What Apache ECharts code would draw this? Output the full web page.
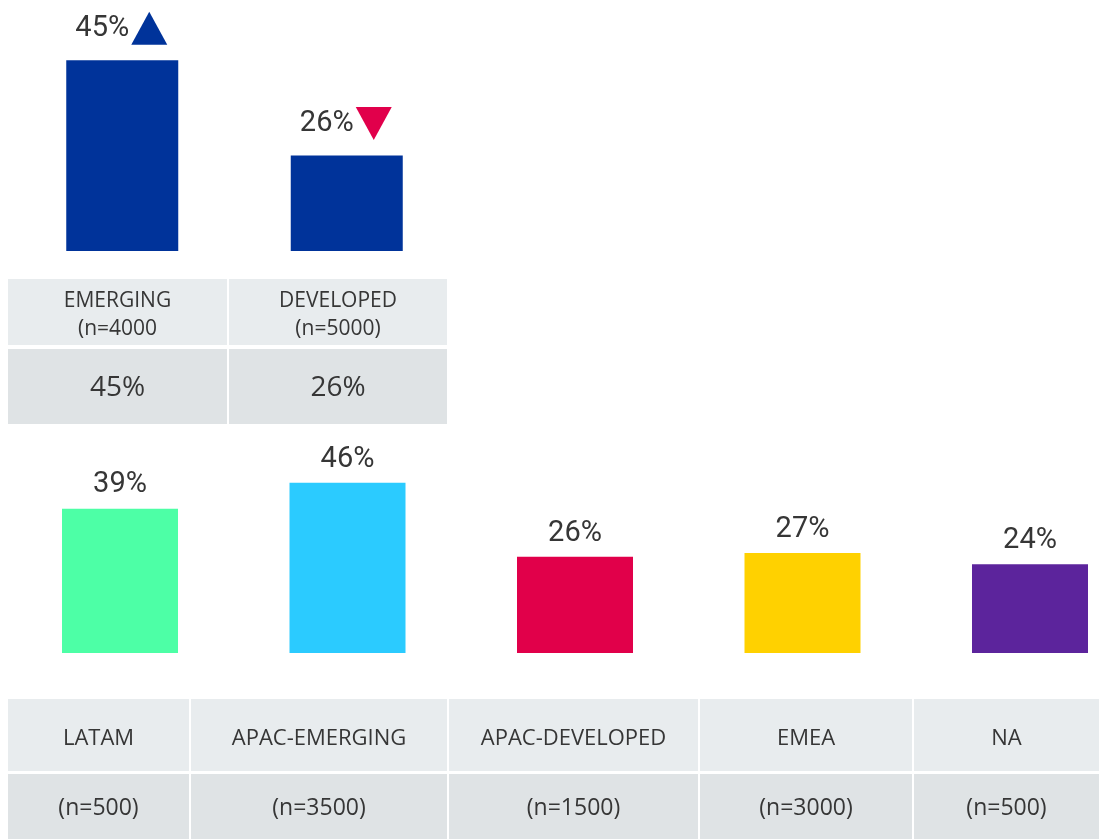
<!DOCTYPE html>
<html>
<head>
<meta charset="utf-8">
<title>Emerging vs developed, by region</title>
<script src="https://cdn.jsdelivr.net/npm/echarts@6/dist/echarts.min.js"></script>
<style>
  html, body { margin: 0; padding: 0; background: #ffffff; }
  #chart { width: 1099px; height: 839px; }
</style>
</head>
<body>
<div id="chart"></div>
<script>
// --- data: top panel (market type) ---
const marketCats = ['EMERGING', 'DEVELOPED'];
const marketSizes = ['(n=4000', '(n=5000)'];
const marketValues = [45, 26];
const marketTrend = ['up', 'down'];

// --- data: bottom panel (regions) ---
const regionCats = ['LATAM', 'APAC-EMERGING', 'APAC-DEVELOPED', 'EMEA', 'NA'];
const regionSizes = ['(n=500)', '(n=3500)', '(n=1500)', '(n=3000)', '(n=500)'];
const regionValues = [39, 46, 26, 27, 24];

// --- styles ---
const TEXT = '#363636';
const NAVY = '#00339a';
const RED = '#e1004b';
const regionColors = ['#4dffa6', '#2bcbff', '#e1004a', '#ffd100', '#5c249c'];
const HEAD_BG = '#e8ecee';
const VAL_BG = '#dfe3e5';
const TABLE_FONT = '"Open Sans", sans-serif';
const LABEL_FONT = 'Roboto, sans-serif';

// table layout (cell edges, px)
const topCols = [[8, 227], [229, 447]];
const topRows = [[279, 345], [349, 424]];
const botCols = [[8, 189], [191, 447], [449, 698], [700, 912], [914, 1099]];
const botRows = [[699, 771], [774, 839]];

const UP = 'path://M1,0L2,2L0,2Z';
const DOWN = 'path://M0,0L2,0L1,2Z';

function cell(c, r, fill, text, fontSize, lineHeight, dy) {
  return [
    {
      type: 'rect', silent: true,
      shape: { x: c[0], y: r[0], width: c[1] - c[0], height: r[1] - r[0] },
      style: { fill: fill }
    },
    {
      type: 'text', silent: true,
      x: (c[0] + c[1]) / 2, y: (r[0] + r[1]) / 2 + (dy || 0),
      style: {
        text: text, fill: TEXT, fontSize: fontSize, fontFamily: TABLE_FONT,
        align: 'center', verticalAlign: 'middle', lineHeight: lineHeight
      }
    }
  ];
}

let graphics = [];
marketCats.forEach((name, i) => {
  graphics = graphics.concat(cell(topCols[i], topRows[0], HEAD_BG, name + '\n' + marketSizes[i], 21, 28, 3));
  graphics = graphics.concat(cell(topCols[i], topRows[1], VAL_BG, marketValues[i] + '%', 28, 32, 2));
});
regionCats.forEach((name, i) => {
  graphics = graphics.concat(cell(botCols[i], botRows[0], HEAD_BG, name, 22, 26, 4));
  graphics = graphics.concat(cell(botCols[i], botRows[1], VAL_BG, regionSizes[i], 23, 26, 2));
});

const chart = echarts.init(document.getElementById('chart'));

const option = {
  animation: false,
  grid: [
    { left: 10, top: 0, width: 449, height: 251 },
    { left: 0, top: 468, width: 1099, height: 185 }
  ],
  xAxis: [
    { type: 'category', gridIndex: 0, data: marketCats, show: false },
    // region index as a value axis so the bar spacing can match the original
    { type: 'value', gridIndex: 1, min: -0.5275, max: 4.3033, show: false }
  ],
  yAxis: [
    { type: 'value', gridIndex: 0, min: 7, max: 57, show: false },
    { type: 'value', gridIndex: 1, min: 0, max: 50, show: false }
  ],
  series: [
    {
      type: 'bar',
      xAxisIndex: 0, yAxisIndex: 0,
      data: marketValues,
      barWidth: 112,
      itemStyle: { color: NAVY },
      label: {
        show: true, position: 'top', distance: 17, offset: [-20, 0],
        formatter: '{c}%', color: TEXT, fontSize: 29, fontFamily: LABEL_FONT
      }
    },
    {
      // trend arrows next to the value labels
      type: 'scatter',
      xAxisIndex: 0, yAxisIndex: 0,
      silent: true,
      z: 5,
      data: marketValues.map((v, i) => ({
        value: [i, v],
        symbol: marketTrend[i] === 'up' ? UP : DOWN,
        itemStyle: { color: marketTrend[i] === 'up' ? NAVY : RED, opacity: 1 }
      })),
      symbolSize: [36, 33],
      symbolKeepAspect: false,
      symbolOffset: [27, -32]
    },
    {
      type: 'bar',
      xAxisIndex: 1, yAxisIndex: 1,
      data: regionValues.map((v, i) => ({ value: [i, v], itemStyle: { color: regionColors[i] } })),
      barWidth: 116,
      label: {
        show: true, position: 'top', distance: 9,
        formatter: (p) => p.value[1] + '%',
        color: TEXT, fontSize: 29, fontFamily: LABEL_FONT
      }
    }
  ],
  graphic: graphics
};

chart.setOption(option);
</script>
</body>
</html>
